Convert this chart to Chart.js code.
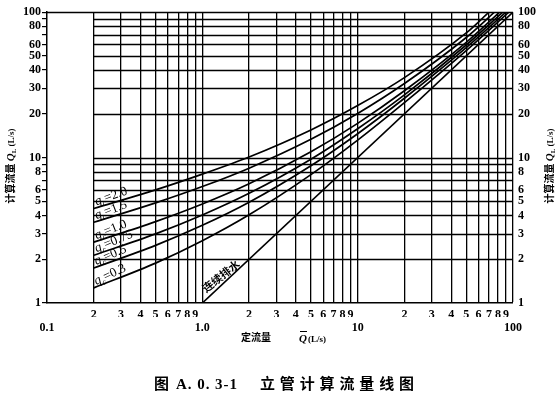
<!DOCTYPE html>
<html><head><meta charset="utf-8">
<script src="https://cdn.jsdelivr.net/npm/chart.js@4/dist/chart.umd.min.js"></script>
<style>html,body{margin:0;padding:0;background:#fff;}canvas{display:block;}</style>
</head><body>
<canvas id="c" width="560" height="398"></canvas>
<script>
// ---- data ----
const qcLabels = ['2.0', '1.5', '1.0', '0.75', '0.5', '0.3'];
const qbar = [0.2, 0.5, 1, 2, 5, 10, 20, 50];           // 定流量 Q̄ (L/s)
const qL_20  = [4.47, 6.0, 7.7, 10.1, 15.5, 22.8, 35.5, 72];
const qL_15  = [3.59, 4.88, 6.32, 8.46, 13.35, 20.1, 32.3, 67];
const qL_10  = [2.62, 3.63, 4.8, 6.61, 10.96, 17.2, 28.8, 62];
const qL_075 = [2.13, 2.99, 4.03, 5.68, 9.75, 15.8, 27.0, 59.5];
const qL_05  = [1.74, 2.49, 3.42, 4.93, 8.79, 14.6, 25.6, 57];
const qL_03  = [1.27, 1.88, 2.68, 4.04, 7.64, 13.2, 23.9, 54.5];
const endQbar = [70, 76, 82, 86, 90, 94];                // Q̄ where each curve reaches 100
const contQbar = [1, 100];                              // 连续排水
const contQL = [1, 100];
const xMinorLabels = ['2', '3', '4', '5', '6', '7', '8', '9'];
const xDecadeLabels = ['0.1', '1.0', '10', '100'];
const yTickLabels = ['1', '2', '3', '4', '5', '6', '8', '10', '20', '30', '40', '50', '60', '80', '100'];

const series = [qL_20, qL_15, qL_10, qL_075, qL_05, qL_03];

// tick positions
const decades = [0.1, 1, 10];
const xTickVals = [];
decades.forEach(d => { for (let k = 1; k <= 9; k++) xTickVals.push(+(d * k).toPrecision(6)); });
xTickVals.push(100);
const xDecVals = [0.1, 1, 10, 100];
const yTickVals = [];
[1, 10].forEach(d => { for (let k = 1; k <= 9; k++) yTickVals.push(+(d * k).toPrecision(6)); });
yTickVals.push(100);

function mant(v) { return Math.round(v / Math.pow(10, Math.floor(Math.log10(v) + 1e-9))); }

const datasets = series.map((s, i) => ({
  label: 'qc=' + qcLabels[i],
  data: qbar.map((x, j) => ({ x: x, y: s[j] })).concat([{ x: endQbar[i], y: 100 }]),
  borderColor: '#000', borderWidth: 1.7, pointRadius: 0, cubicInterpolationMode: 'monotone', fill: false
}));
datasets.push({
  label: '连续排水',
  data: contQbar.map((x, j) => ({ x: x, y: contQL[j] })),
  borderColor: '#000', borderWidth: 1.7, pointRadius: 0, fill: false
});

const tickFont = { family: '"Liberation Serif", serif', size: 12, weight: 'bold' };
const CJK = '"Noto Sans CJK SC", sans-serif';
const SERIF = '"Liberation Serif", serif';

function runsWidth(ctx, runs) {
  let w = 0;
  runs.forEach(r => { ctx.font = r.font; w += ctx.measureText(r.t).width; });
  return w;
}
function drawRuns(ctx, runs, x, y) {
  let cx = x;
  runs.forEach(r => {
    ctx.font = r.font;
    ctx.fillText(r.t, cx, y + (r.dy || 0));
    cx += ctx.measureText(r.t).width;
  });
}
function spread(ctx, str, x0, x1, y) {
  const chars = Array.from(str);
  let tot = 0; chars.forEach(c => tot += ctx.measureText(c).width);
  const gap = chars.length > 1 ? (x1 - x0 - tot) / (chars.length - 1) : 0;
  let cx = x0;
  chars.forEach(c => { ctx.fillText(c, cx, y); cx += ctx.measureText(c).width + gap; });
}

const deco = {
  id: 'deco',
  beforeDatasetsDraw(chart) {
    const { ctx, scales: { x, y } } = chart;
    ctx.save();
    ctx.strokeStyle = '#000';
    ctx.lineWidth = 1.3;
    yTickVals.forEach(v => {
      if (v === 1) return;
      const py = Math.round(y.getPixelForValue(v)) + 0.5;
      const x0 = v === 100 ? x.getPixelForValue(0.1) : x.getPixelForValue(0.2);
      ctx.beginPath(); ctx.moveTo(x0, py); ctx.lineTo(x.getPixelForValue(100), py); ctx.stroke();
    });
    ctx.restore();
  },
  afterDraw(chart) {
    const { ctx, scales: { x, y } } = chart;
    ctx.save();
    ctx.fillStyle = '#000';
    ctx.textBaseline = 'alphabetic';
    // axis titles (left & right)
    const yTitle = [
      { t: '计算流量 ', font: 'bold 10px ' + CJK },
      { t: 'Q', font: 'italic bold 11px ' + SERIF },
      { t: 'L', font: 'bold 7px ' + SERIF, dy: 2 },
      { t: ' (L/s)', font: 'bold 9px ' + SERIF }
    ];
    const tw = runsWidth(ctx, yTitle);
    [[14, 166], [553, 166]].forEach(([px, py]) => {
      ctx.save(); ctx.translate(px, py); ctx.rotate(-Math.PI / 2);
      drawRuns(ctx, yTitle, -tw / 2, 0);
      ctx.restore();
    });
    // bottom title
    ctx.font = 'bold 10px ' + CJK;
    ctx.fillText('定流量', 241, 341);
    ctx.font = 'italic bold 11px ' + SERIF;
    ctx.fillText('Q', 299, 342);
    ctx.fillRect(300, 331, 7, 1);
    ctx.font = 'bold 9px ' + SERIF;
    ctx.fillText('(L/s)', 308, 342);
    // caption
    ctx.font = 'bold 15px ' + CJK;
    ctx.fillText('图', 154, 389);
    ctx.font = 'bold 15px ' + SERIF;
    spread(ctx, 'A. 0. 3-1', 176, 237, 389);
    ctx.font = 'bold 15px ' + CJK;
    spread(ctx, '立管计算流量线图', 260, 414, 389);
    // curve labels
    series.forEach((s, i) => {
      const p0x = x.getPixelForValue(qbar[0]), p0y = y.getPixelForValue(s[0]);
      const p1x = x.getPixelForValue(qbar[1]), p1y = y.getPixelForValue(s[1]);
      const ang = Math.atan2(p1y - p0y, p1x - p0x) - 0.06;
      ctx.save();
      ctx.translate(p0x + 3, p0y - 2);
      ctx.rotate(ang);
      drawRuns(ctx, [
        { t: 'q', font: 'italic 13px ' + SERIF },
        { t: 'c', font: 'italic 8px ' + SERIF, dy: 3 },
        { t: '=' + qcLabels[i], font: '13px ' + SERIF }
      ], 0, -1);
      ctx.restore();
    });
    // 连续排水 label
    const ax = x.getPixelForValue(contQbar[0]), ay = y.getPixelForValue(contQL[0]);
    const bx = x.getPixelForValue(contQbar[1]), by = y.getPixelForValue(contQL[1]);
    const ang2 = Math.atan2(by - ay, bx - ax) + 0.08;
    ctx.save();
    ctx.translate(ax + 4, ay - 10);
    ctx.rotate(ang2);
    ctx.font = 'bold 11px ' + CJK;
    ctx.fillText('连续排水', 0, 0);
    ctx.restore();
    ctx.restore();
  }
};

new Chart(document.getElementById('c'), {
  type: 'line',
  data: { datasets },
  options: {
    responsive: false, animation: false, devicePixelRatio: 1,
    layout: { padding: { top: 10, left: 0, right: 0, bottom: 0 } },
    plugins: { legend: { display: false }, tooltip: { enabled: false }, title: { display: false } },
    scales: {
      x: {
        type: 'logarithmic', position: 'bottom', min: 0.1, max: 100,
        afterBuildTicks: s => { s.ticks = xTickVals.map(v => ({ value: v })); },
        afterFit: s => { s.height = 14; },
        ticks: {
          autoSkip: false, maxRotation: 0, minRotation: 0, padding: 5, color: '#000', font: tickFont,
          callback: v => { const m = mant(v); return m >= 2 && m <= 9 ? xMinorLabels[m - 2] : ''; }
        },
        grid: {
          display: true, drawTicks: false, color: '#000',
          lineWidth: c => (c.tick && Math.abs(c.tick.value - 0.1) < 1e-9) ? 0 : 1.3
        },
        border: { display: true, color: '#000', width: 1.5 }
      },
      x2: {
        type: 'logarithmic', position: 'bottom', min: 0.1, max: 100,
        afterBuildTicks: s => { s.ticks = xDecVals.map(v => ({ value: v })); },
        afterFit: s => { s.height = 81; },
        ticks: {
          autoSkip: false, maxRotation: 0, minRotation: 0, padding: 4, color: '#000', font: tickFont,
          callback: v => xDecadeLabels[xDecVals.findIndex(d => Math.abs(d - v) < 1e-9)]
        },
        grid: { display: false, drawTicks: false },
        border: { display: false }
      },
      y: {
        type: 'logarithmic', position: 'left', min: 1, max: 100,
        afterBuildTicks: s => { s.ticks = yTickVals.map(v => ({ value: v })); },
        afterFit: s => { s.width = 47; },
        ticks: {
          autoSkip: false, padding: 1, color: '#000', font: tickFont,
          callback: v => yTickLabels.includes(String(v)) ? String(v) : ''
        },
        grid: { display: true, drawOnChartArea: false, drawTicks: true, tickLength: 5, color: '#000', lineWidth: 1.2 },
        border: { display: true, color: '#000', width: 1.5 }
      },
      y2: {
        type: 'logarithmic', position: 'right', min: 1, max: 100,
        afterBuildTicks: s => { s.ticks = yTickVals.map(v => ({ value: v })); },
        afterFit: s => { s.width = 47; },
        ticks: {
          autoSkip: false, padding: 5, color: '#000', font: tickFont,
          callback: v => yTickLabels.includes(String(v)) ? String(v) : ''
        },
        grid: { display: false, drawTicks: false },
        border: { display: false }
      }
    }
  },
  plugins: [deco]
});
</script>
</body></html>
